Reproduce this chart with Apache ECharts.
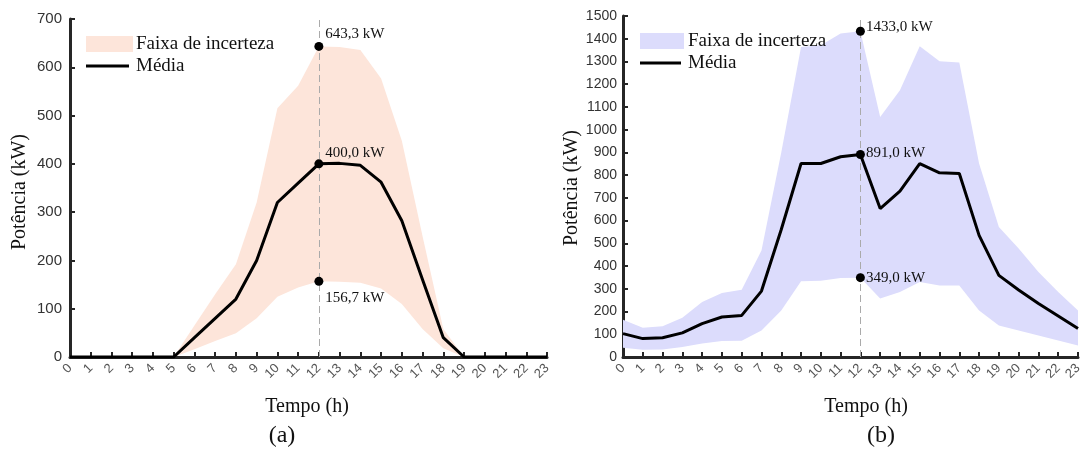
<!DOCTYPE html>
<html>
<head>
<meta charset="utf-8">
<script src="https://cdn.jsdelivr.net/npm/echarts@6/dist/echarts.min.js"></script>
<style>
  html, body { margin: 0; padding: 0; background: #fff; }
  #chart { width: 1088px; height: 451px; }
</style>
</head>
<body>
<div id="chart"></div>
<script>
// Hours of the day (x axis categories)
const hours = ['0','1','2','3','4','5','6','7','8','9','10','11','12','13','14','15','16','17','18','19','20','21','22','23'];

// (a) generation profile (kW)
const meanA  = [0,0,0,0,0,0,40,80,120,200,320,360,400,401,397,362,282,160,40,0,0,0,0,0];
const upperA = [0,0,0,0,0,0,65,130,192,320,515,562,643.3,642,636,577,448,250,58,0,0,0,0,0];
const lowerA = [0,0,0,0,0,0,16,33,49,80,125,144,156.7,156,154,142,110,58,18,0,0,0,0,0];

// (b) load profile (kW)
const meanB  = [103,81,85,106,147,176,183,290,561,851,851,881,891,653,730,851,810,807,535,359,295,235,180,125];
const upperB = [164,129,135,173,242,282,296,469,900,1364,1371,1423,1433,1056,1173,1367,1301,1295,851,572,477,374,286,205];
const lowerB = [41,32,33,44,59,70,72,117,205,333,335,348,349,257,286,330,315,315,205,139,117,95,73,51];

// Marked hour
const markHour = '12';
const markIdx = 12;

const SERIF = '"Liberation Serif", "Times New Roman", serif';
const SANS = '"Liberation Sans", Arial, sans-serif';
const bandA = '#fde5da';
const bandB = '#dcdcfc';

const diff = (u, l) => u.map((v, i) => +(v - l[i]).toFixed(3));
const fmt = v => v.toFixed(1).replace('.', ',') + ' kW';

function xAxisFor(gridIndex) {
  return {
    type: 'category', gridIndex, data: hours, boundaryGap: false,
    axisLine: { lineStyle: { color: '#262626', width: 3 } },
    axisTick: { inside: true, length: 5, interval: 0, lineStyle: { color: '#262626', width: 2 } },
    axisLabel: { interval: 0, rotate: 45, margin: 9, fontFamily: SANS, fontSize: 13, color: '#555' },
    splitLine: { show: false }
  };
}
function yAxisFor(gridIndex, max, fontSize, margin) {
  return {
    type: 'value', gridIndex, min: 0, max, interval: 100,
    axisLine: { show: true, lineStyle: { color: '#262626', width: 3 } },
    axisTick: { show: true, inside: true, length: 5, lineStyle: { color: '#262626', width: 2 } },
    axisLabel: { margin, fontFamily: SANS, fontSize, color: '#333', formatter: v => String(v) },
    splitLine: { show: false }
  };
}

function bandSeries(idx, lower, upper, color, stackName) {
  return [
    {
      type: 'line', xAxisIndex: idx, yAxisIndex: idx, stack: stackName,
      data: lower, symbol: 'none', silent: true,
      lineStyle: { width: 0, opacity: 0 }, z: 1
    },
    {
      type: 'line', xAxisIndex: idx, yAxisIndex: idx, stack: stackName,
      name: 'Faixa de incerteza',
      data: diff(upper, lower), symbol: 'none', silent: true,
      lineStyle: { width: 0, opacity: 0 },
      areaStyle: { color, opacity: 1 }, z: 1
    }
  ];
}

function meanSeries(idx, mean) {
  return {
    type: 'line', xAxisIndex: idx, yAxisIndex: idx, name: 'Média',
    data: mean, symbol: 'none', silent: true,
    lineStyle: { color: '#000', width: 3 }, z: 3,
    markLine: {
      silent: true, symbol: 'none', label: { show: false },
      lineStyle: { color: '#aaa', width: 1, type: [7, 4] },
      data: [{ xAxis: markHour }], z: 2
    }
  };
}

function markSeries(idx, pts) {
  return {
    type: 'scatter', xAxisIndex: idx, yAxisIndex: idx,
    symbolSize: 9, itemStyle: { color: '#000', opacity: 1 }, z: 5, silent: true,
    data: pts.map(p => ({
      value: [markHour, p.v],
      label: {
        show: true, position: 'right', distance: p.d, offset: p.off,
        formatter: fmt(p.v), fontFamily: SERIF, fontSize: 15, color: '#111'
      }
    }))
  };
}

const option = {
  animation: false,
  backgroundColor: '#fff',
  grid: [
    { left: 70, top: 19, width: 477, height: 338 },
    { left: 623, top: 16, width: 455, height: 341 }
  ],
  xAxis: [xAxisFor(0), xAxisFor(1)],
  yAxis: [yAxisFor(0, 700, 15, 8), yAxisFor(1, 1500, 14, 6)],
  series: [
    ...bandSeries(0, lowerA, upperA, bandA, 'a'),
    meanSeries(0, meanA),
    markSeries(0, [
      { v: upperA[markIdx], d: 2, off: [0, -12] },
      { v: meanA[markIdx], d: 2, off: [0, -11] },
      { v: lowerA[markIdx], d: 2, off: [0, 17] }
    ]),
    ...bandSeries(1, lowerB, upperB, bandB, 'b'),
    meanSeries(1, meanB),
    markSeries(1, [
      { v: upperB[markIdx], d: 1, off: [0, -4] },
      { v: meanB[markIdx], d: 1, off: [0, -1] },
      { v: lowerB[markIdx], d: 1, off: [0, 0] }
    ])
  ],
  graphic: [
    // legend (a)
    { type: 'rect', shape: { x: 86, y: 36, width: 47, height: 16 }, style: { fill: bandA }, z: 10 },
    { type: 'text', x: 136, y: 44, style: { text: 'Faixa de incerteza', font: '19px ' + SERIF, fill: '#111', textVerticalAlign: 'middle' }, z: 10 },
    { type: 'line', shape: { x1: 86, y1: 66, x2: 129, y2: 66 }, style: { stroke: '#000', lineWidth: 3 }, z: 10 },
    { type: 'text', x: 136, y: 66, style: { text: 'Média', font: '19px ' + SERIF, fill: '#111', textVerticalAlign: 'middle' }, z: 10 },
    // legend (b)
    { type: 'rect', shape: { x: 640, y: 33, width: 44, height: 16 }, style: { fill: bandB }, z: 10 },
    { type: 'text', x: 688, y: 41.5, style: { text: 'Faixa de incerteza', font: '19px ' + SERIF, fill: '#111', textVerticalAlign: 'middle' }, z: 10 },
    { type: 'line', shape: { x1: 640, y1: 63, x2: 681, y2: 63 }, style: { stroke: '#000', lineWidth: 3 }, z: 10 },
    { type: 'text', x: 688, y: 63, style: { text: 'Média', font: '19px ' + SERIF, fill: '#111', textVerticalAlign: 'middle' }, z: 10 },
    // axis names
    { type: 'text', x: 20, y: 192, rotation: Math.PI / 2, style: { text: 'Potência (kW)', font: '20px ' + SERIF, fill: '#111', textAlign: 'center', textVerticalAlign: 'middle' } },
    { type: 'text', x: 572, y: 188, rotation: Math.PI / 2, style: { text: 'Potência (kW)', font: '20px ' + SERIF, fill: '#111', textAlign: 'center', textVerticalAlign: 'middle' } },
    { type: 'text', x: 307, y: 407, style: { text: 'Tempo (h)', font: '20px ' + SERIF, fill: '#111', textAlign: 'center', textVerticalAlign: 'middle' } },
    { type: 'text', x: 866, y: 407, style: { text: 'Tempo (h)', font: '20px ' + SERIF, fill: '#111', textAlign: 'center', textVerticalAlign: 'middle' } },
    // panel captions
    { type: 'text', x: 282, y: 436, style: { text: '(a)', font: '24px ' + SERIF, fill: '#111', textAlign: 'center', textVerticalAlign: 'middle' } },
    { type: 'text', x: 881, y: 436, style: { text: '(b)', font: '24px ' + SERIF, fill: '#111', textAlign: 'center', textVerticalAlign: 'middle' } }
  ]
};

const chart = echarts.init(document.getElementById('chart'), null, { renderer: 'canvas' });
chart.setOption(option);
</script>
</body>
</html>
